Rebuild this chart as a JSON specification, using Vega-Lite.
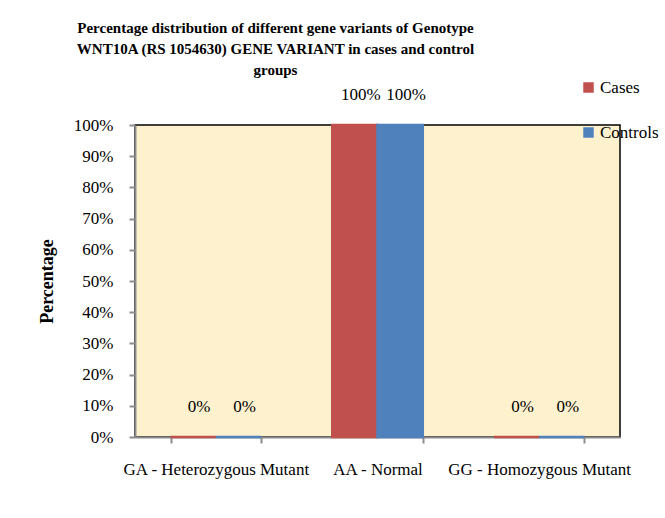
{
  "$schema": "https://vega.github.io/schema/vega-lite/v6.json",
  "width": 485,
  "height": 312,
  "autosize": {"type": "none"},
  "padding": {"left": 135, "top": 125, "right": 45, "bottom": 81},
  "background": "white",
  "config": {
    "font": "Liberation Serif",
    "view": {"fill": "#FEF2CE", "stroke": "#000000", "strokeWidth": 1.5},
    "axis": {"labelFont": "Liberation Serif", "labelFontSize": 17, "labelColor": "#000", "labelLimit": 0, "titleFont": "Liberation Serif", "titleColor": "#000", "domainColor": "#8C8C8C", "domainWidth": 2, "tickColor": "#8C8C8C", "tickWidth": 2, "grid": false}
  },
  "title": {
    "text": ["Percentage distribution of different gene variants of Genotype", "WNT10A (RS 1054630) GENE VARIANT in cases and control", "groups"],
    "font": "Liberation Serif",
    "fontSize": 15,
    "fontWeight": "bold",
    "color": "#000",
    "lineHeight": 21,
    "anchor": "middle",
    "frame": "group",
    "dx": -102,
    "offset": 1
  },
  "data": {
    "values": [
      {"variant": "GA - Heterozygous Mutant", "group": "Cases", "value": 0},
      {"variant": "GA - Heterozygous Mutant", "group": "Controls", "value": 0},
      {"variant": "AA - Normal", "group": "Cases", "value": 1},
      {"variant": "AA - Normal", "group": "Controls", "value": 1},
      {"variant": "GG - Homozygous Mutant", "group": "Cases", "value": 0},
      {"variant": "GG - Homozygous Mutant", "group": "Controls", "value": 0}
    ]
  },
  "encoding": {
    "x": {
      "field": "variant", "type": "nominal",
      "sort": ["GA - Heterozygous Mutant", "AA - Normal", "GG - Homozygous Mutant"],
      "scale": {"paddingInner": 0.44, "paddingOuter": 0.22},
      "axis": {"title": null, "labelAngle": 0, "tickBand": "extent", "tickSize": 6, "labelPadding": 18, "labelLimit": 0}
    },
    "xOffset": {"field": "group", "type": "nominal", "sort": ["Cases", "Controls"], "scale": {"paddingInner": 0, "paddingOuter": 0}},
    "y": {
      "field": "value", "type": "quantitative",
      "scale": {"domain": [0, 1], "nice": false},
      "axis": {"title": "Percentage", "titleFontSize": 18, "titleFontWeight": "bold", "titlePadding": 17, "values": [0, 0.1, 0.2, 0.3, 0.4, 0.5, 0.6, 0.7, 0.8, 0.9, 1], "format": ".0%", "tickSize": 6, "labelPadding": 16}
    }
  },
  "layer": [
    {
      "mark": {"type": "bar", "strokeWidth": 2.5},
      "encoding": {
        "color": {
          "field": "group", "type": "nominal",
          "scale": {"domain": ["Cases", "Controls"], "range": ["#C0504D", "#4F81BD"]},
          "legend": {"title": null, "orient": "none", "legendX": 445, "legendY": -46, "symbolType": "square", "symbolSize": 110, "symbolStrokeWidth": 0, "labelFont": "Liberation Serif", "labelFontSize": 17, "labelColor": "#000", "labelLimit": 0, "rowPadding": 27, "labelOffset": 3, "padding": 0}
        },
        "stroke": {"field": "group", "type": "nominal", "scale": {"domain": ["Cases", "Controls"], "range": ["#C0504D", "#4F81BD"]}, "legend": null}
      }
    },
    {
      "mark": {"type": "text", "dy": -30, "dx": 6, "fontSize": 17, "font": "Liberation Serif", "color": "#000"},
      "encoding": {
        "text": {"field": "value", "type": "quantitative", "format": ".0%"}
      }
    }
  ]
}
